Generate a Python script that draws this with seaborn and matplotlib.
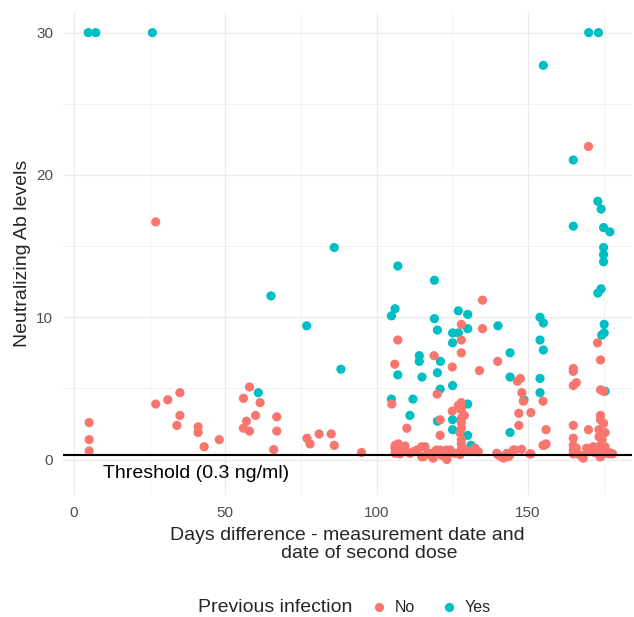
import pandas as pd
import matplotlib
matplotlib.use("Agg")
import matplotlib.pyplot as plt
import seaborn as sns

# Previous infection = No
days_no = [5.0, 5.0, 5.0, 27.0, 27.0, 31.0, 35.0, 35.0, 34.0, 41.0, 41.0, 43.0, 48.0,
           58.0, 56.0, 61.5, 60.0, 57.0, 56.0, 58.0, 67.0, 67.0, 66.0, 77.0, 78.0, 81.0,
           85.0, 86.0, 95.0, 107.0, 106.0, 105.0, 110.0, 119.0, 120.0, 121.0, 121.0,
           125.0, 125.0, 128.0, 128.0, 128.0, 127.0, 128.0, 129.0, 128.0, 128.0, 128.0,
           128.0, 127.5, 128.0, 128.0, 128.0, 134.0, 135.0, 135.0, 140.0, 146.5, 147.5,
           148.0, 148.5, 147.0, 151.0, 147.0, 156.0, 155.0, 155.0, 156.0, 151.0, 144.0,
           170.0, 173.0, 174.0, 165.0, 165.0, 165.0, 166.0, 174.0, 175.0, 165.0, 170.0,
           165.0, 165.0, 166.0, 165.0, 168.0, 170.0, 174.0, 174.0, 175.0, 173.5, 175.5,
           173.5, 174.5, 174.0, 175.5, 173.0, 174.5, 177.0, 172.0, 171.0, 174.0, 178.0,
           106.1, 108.8, 111.0, 113.3, 114.9, 116.0, 117.7, 119.3, 121.0, 122.6, 124.3,
           125.9, 128.7, 130.9, 132.5, 133.6, 139.7, 141.3, 143.0, 145.2,
           106.1, 107.2, 109.4, 106.1, 107.7, 109.4, 112.1, 114.9, 115.4, 117.1, 118.7,
           119.8, 121.5, 123.1, 124.2,
           123.2, 127.6, 129.3, 133.2, 140.2, 141.9, 143.5, 145.7, 147.9, 150.7, 155.6,
           165.0, 167.2, 168.3, 169.4, 171.6, 173.8, 176.0, 177.1]
ab_no = [2.6, 1.4, 0.6, 16.7, 3.9, 4.2, 4.7, 3.1, 2.4, 2.3, 1.9, 0.9, 1.4,
         5.1, 4.3, 4.0, 3.1, 2.7, 2.2, 2.0, 3.0, 2.0, 0.7, 1.5, 1.1, 1.8,
         1.8, 1.0, 0.5, 8.4, 6.7, 3.9, 2.2, 7.3, 4.6, 2.8, 1.7,
         6.5, 3.4, 9.5, 8.4, 7.5, 3.8, 4.0, 3.1, 3.5, 2.9, 2.6,
         2.2, 1.9, 1.4, 1.1, 0.7, 6.25, 11.2, 9.2, 6.9, 5.5, 5.7,
         4.7, 4.1, 3.25, 3.3, 2.4, 2.1, 4.1, 1.0, 1.1, 0.4, 0.3,
         22.0, 8.2, 7.0, 6.4, 6.2, 5.2, 5.4, 4.9, 4.8, 2.4, 2.1,
         1.5, 1.0, 0.8, 0.4, 0.2, 0.55, 3.1, 2.8, 2.55, 2.1, 1.9,
         1.6, 1.4, 1.0, 0.9, 0.6, 0.5, 0.4, 0.5, 0.6, 0.2, 0.4,
         0.8, 0.56, 0.44, 0.67, 0.2, 0.9, 0.32, 0.56, 0.67, 0.2, 0.67,
         0.44, 0.67, 0.56, 0.8, 0.56, 0.44, 0.2, 0.44, 0.67,
         1.0, 1.1, 0.95, 0.44, 0.4, 0.65, 0.55, 0.9, 0.2, 0.45, 0.1,
         0.67, 0.3, 0.67, 0.45,
         0.0, 0.35, 0.67, 0.56, 0.32, 0.1, 0.2, 0.67, 0.72, 0.4, 1.03,
         0.67, 0.32, 0.1, 0.8, 0.9, 0.2, 0.44, 0.48]

# Previous infection = Yes
days_yes = [4.7, 7.2, 25.9, 65.1, 155.1, 170.1, 173.3, 165.0, 173.1, 174.2, 165.0,
            175.0, 177.1, 86.0, 175.0, 175.0, 175.0, 107.0, 119.1, 173.1, 174.2,
            154.0, 155.1, 175.2, 175.2, 174.4, 144.1, 154.0, 155.1, 144.1, 154.0,
            154.0, 148.7, 76.9, 88.2, 60.9, 106.1, 104.9, 127.0, 130.1, 119.1, 120.1,
            140.1, 130.1, 125.1, 127.0, 125.1, 114.1, 114.1, 121.1, 120.1, 107.0,
            115.0, 125.1, 121.0, 104.9, 112.0, 130.1, 111.0, 120.1, 125.1, 125.1,
            144.1, 130.1, 131.2, 175.5]
ab_yes = [30.0, 30.0, 30.0, 11.5, 27.7, 30.0, 30.0, 21.05, 18.15, 17.6, 16.4,
          16.3, 16.0, 14.9, 14.9, 14.4, 13.9, 13.6, 12.6, 11.7, 12.0,
          10.0, 9.6, 9.5, 8.9, 8.75, 7.5, 8.4, 7.7, 5.8, 5.7,
          4.7, 4.2, 9.4, 6.35, 4.7, 10.6, 10.1, 10.45, 10.2, 9.9, 9.1,
          9.4, 9.2, 8.9, 8.9, 8.2, 7.3, 6.9, 6.9, 6.1, 5.95,
          5.8, 5.2, 4.95, 4.25, 4.25, 3.9, 3.1, 2.7, 2.8, 2.1,
          1.9, 1.7, 1.0, 4.8]

threshold = 0.3
x_major = [0, 50, 100, 150]
x_minor = [25, 75, 125, 175]
y_major = [0, 10, 20, 30]
y_minor = [5, 15, 25]

df = pd.concat([
    pd.DataFrame({"days": days_yes, "ab": ab_yes, "infection": "Yes"}),
    pd.DataFrame({"days": days_no, "ab": ab_no, "infection": "No"}),
], ignore_index=True)

sns.set_theme(style="white")
plt.rcParams["font.family"] = ["Liberation Sans", "DejaVu Sans"]

W, H = 634, 617
fig = plt.figure(figsize=(W / 100, H / 100), dpi=100)
ax = fig.add_axes([63 / W, 122 / H, 569 / W, 483 / H])

palette = {"No": "#F8766D", "Yes": "#00BFC4"}
sns.scatterplot(data=df, x="days", y="ab", hue="infection", hue_order=["No", "Yes"],
                palette=palette, s=44, linewidth=0, alpha=1, ax=ax, zorder=3)

ax.axhline(threshold, color="black", lw=1.5, zorder=4)
ax.text(40.3, -1, "Threshold (0.3 ng/ml)", ha="center", va="center", fontsize=14,
        color="black")

ax.set_xlim(-3.64, 184.4)
ax.set_ylim(-2.49, 31.45)
ax.set_xticks(x_major)
ax.set_xticks(x_minor, minor=True)
ax.set_yticks(y_major)
ax.set_yticks(y_minor, minor=True)
ax.grid(which="major", color="#EBEBEB", lw=0.9)
ax.grid(which="minor", color="#EBEBEB", lw=0.45)
ax.set_axisbelow(True)
for sp in ax.spines.values():
    sp.set_visible(False)
ax.tick_params(which="both", length=0, labelsize=11, labelcolor="#4D4D4D")
ax.tick_params(axis="x", pad=8)
ax.tick_params(axis="y", pad=7)

ax.set_xlabel("Days difference - measurement date and\n        date of second dose",
              fontsize=14, labelpad=5, linespacing=1.05)
ax.set_ylabel("Neutralizing Ab levels", fontsize=14, labelpad=4)

handles, labels = ax.get_legend_handles_labels()
ax.get_legend().remove()
fig.text(198 / W, 9 / H, "Previous infection", fontsize=14, ha="left", va="center")
fig.legend(handles, labels, ncol=2, loc="center left", bbox_to_anchor=(371 / W, 9 / H),
           frameon=False, fontsize=11.5, handlelength=1.0, handletextpad=0.5,
           columnspacing=1.6, markerscale=1.0, borderaxespad=0, borderpad=0)

fig.savefig("out.png", dpi=100)
